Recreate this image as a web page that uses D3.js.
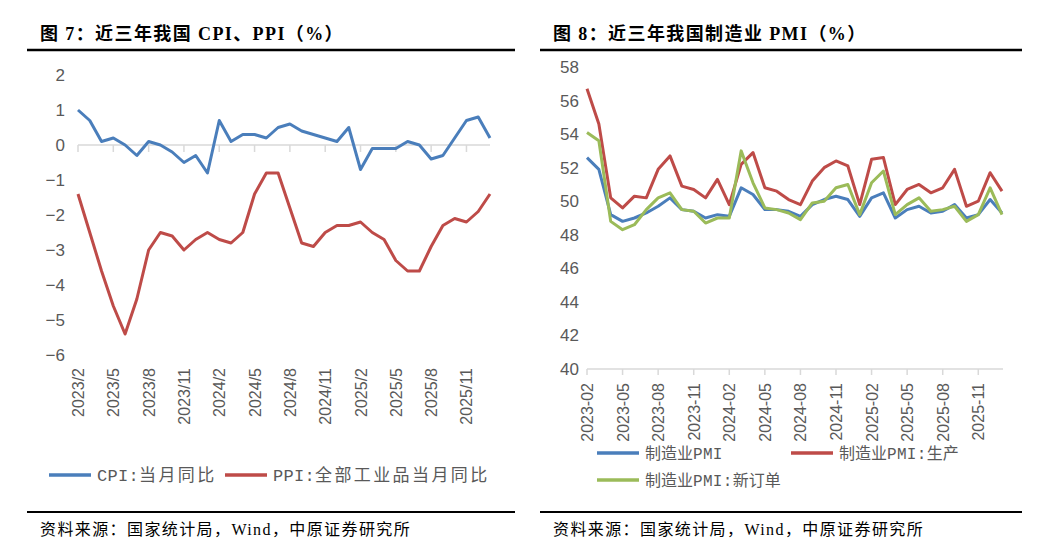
<!DOCTYPE html>
<html><head><meta charset="utf-8">
<script src="https://cdn.jsdelivr.net/npm/d3@7"></script>
<style>
body{margin:0;background:#fff;}
svg text{font-family:"Liberation Sans",Arial,sans-serif;}
</style></head>
<body><svg id="c" width="1044" height="556"></svg>
<script>
// ---------- data ----------
const monthsCN = ["2023/2","2023/3","2023/4","2023/5","2023/6","2023/7","2023/8","2023/9","2023/10","2023/11","2023/12",
"2024/1","2024/2","2024/3","2024/4","2024/5","2024/6","2024/7","2024/8","2024/9","2024/10","2024/11","2024/12",
"2025/1","2025/2","2025/3","2025/4","2025/5","2025/6","2025/7","2025/8","2025/9","2025/10","2025/11","2025/12","2026/1"];
const cpi = [1.0,0.7,0.1,0.2,0.0,-0.3,0.1,0.0,-0.2,-0.5,-0.3,
-0.8,0.7,0.1,0.3,0.3,0.2,0.5,0.6,0.4,0.3,0.2,0.1,
0.5,-0.7,-0.1,-0.1,-0.1,0.1,0.0,-0.4,-0.3,0.2,0.7,0.8,0.2];
const ppi = [-1.4,-2.5,-3.6,-4.6,-5.4,-4.4,-3.0,-2.5,-2.6,-3.0,-2.7,
-2.5,-2.7,-2.8,-2.5,-1.4,-0.8,-0.8,-1.8,-2.8,-2.9,-2.5,-2.3,
-2.3,-2.2,-2.5,-2.7,-3.3,-3.6,-3.6,-2.9,-2.3,-2.1,-2.2,-1.9,-1.4];
const leftTicks = [2,1,0,-1,-2,-3,-4,-5,-6];

const monthsPMI = ["2023-02","2023-03","2023-04","2023-05","2023-06","2023-07","2023-08","2023-09","2023-10","2023-11","2023-12",
"2024-01","2024-02","2024-03","2024-04","2024-05","2024-06","2024-07","2024-08","2024-09","2024-10","2024-11","2024-12",
"2025-01","2025-02","2025-03","2025-04","2025-05","2025-06","2025-07","2025-08","2025-09","2025-10","2025-11","2025-12","2026-01"];
const pmi = [52.6,51.9,49.2,48.8,49.0,49.3,49.7,50.2,49.5,49.4,49.0,
49.2,49.1,50.8,50.4,49.5,49.5,49.4,49.1,49.8,50.1,50.3,50.1,
49.1,50.2,50.5,49.0,49.5,49.7,49.3,49.4,49.8,49.0,49.2,50.1,49.3];
const pmiProd = [56.7,54.6,50.2,49.6,50.3,50.2,51.9,52.7,50.9,50.7,50.2,
51.3,49.8,52.2,52.9,50.8,50.6,50.1,49.8,51.2,52.0,52.4,52.1,
49.8,52.5,52.6,49.8,50.7,51.0,50.5,50.8,51.9,49.7,50.0,51.7,50.6];
const pmiNew = [54.1,53.6,48.8,48.3,48.6,49.5,50.2,50.5,49.5,49.4,48.7,
49.0,49.0,53.0,51.1,49.6,49.5,49.3,48.9,49.9,50.0,50.8,51.0,
49.2,51.1,51.8,49.2,49.8,50.2,49.4,49.5,49.7,48.8,49.2,50.8,49.2];
const rightTicks = [58,56,54,52,50,48,46,44,42,40];

const titleL = "图 7：近三年我国 CPI、PPI（%）";
const titleR = "图 8：近三年我国制造业 PMI（%）";
const source = "资料来源：国家统计局，Wind，中原证券研究所";
const legendL = ["CPI:当月同比","PPI:全部工业品当月同比"];
const legendR = ["制造业PMI","制造业PMI:生产","制造业PMI:新订单"];

const BLUE="#4a7ebb", RED="#be4b48", GREEN="#9bbb59", AX="#d9d9d9", LBL="#595959";
const svg = d3.select("#c");

// ---------- frame ----------
function frame(x0,x1,title,tx){
  svg.append("line").attr("x1",x0).attr("x2",x1).attr("y1",50).attr("y2",50).attr("stroke","#000").attr("stroke-width",2.5);
  svg.append("line").attr("x1",x0).attr("x2",x1).attr("y1",512).attr("y2",512).attr("stroke","#000").attr("stroke-width",2);
  svg.append("text").attr("x",tx).attr("y",40).text(title)
    .style("font-family",'"Liberation Serif","Noto Sans CJK SC",serif').style("font-weight","bold")
    .style("font-size","18px").style("letter-spacing","1.4px").attr("fill","#000");
  svg.append("text").attr("x",tx).attr("y",535).text(source)
    .style("font-family",'"Liberation Serif","Noto Sans CJK SC",serif').style("font-size","16px")
    .style("letter-spacing","1.4px").attr("fill","#000");
}
frame(27,515,titleL,40);
frame(540,1022,titleR,553);

const lineStyle = (sel,c)=>sel.attr("fill","none").attr("stroke",c).attr("stroke-width",3).attr("stroke-linejoin","round");

// legend: split label into latin / CJK runs
function legendItem(g,x,y,c,t,cjkSize,spacing,latSize){
  g.append("line").attr("x1",x).attr("x2",x+42).attr("y1",y).attr("y2",y).attr("stroke",c).attr("stroke-width",3.5);
  const tx = g.append("text").attr("x",x+48).attr("y",y+6).attr("fill",LBL);
  const runs = t.match(/[A-Za-z:]+|[^A-Za-z:]+/g);
  runs.forEach(r=>{
    const lat = /^[A-Za-z:]+$/.test(r);
    tx.append("tspan").text(r)
      .style("font-family", lat?'"Liberation Mono","DejaVu Sans Mono",monospace':'"Noto Sans CJK SC",sans-serif')
      .style("font-size", (lat?latSize:cjkSize)+"px")
      .style("letter-spacing", (lat?0.3:spacing)+"px");
  });
}

// ---------- left chart ----------
const xL = d3.scalePoint().domain(monthsCN).range([78,490]);
const yL = d3.scaleLinear().domain([-6,2]).range([355,75]);
const gL = svg.append("g");
gL.selectAll("text.yl").data(leftTicks).join("text")
  .attr("x",65).attr("y",d=>yL(d)+6).attr("text-anchor","end")
  .attr("fill",LBL).style("font-size","17px").text(d=>d<0?"−"+Math.abs(d):d);
const tickIdxL = d3.range(0,36,3);
gL.append("line").attr("x1",78).attr("x2",490).attr("y1",yL(0)).attr("y2",yL(0)).attr("stroke",AX).attr("stroke-width",1.5);
gL.selectAll("line.tk").data(tickIdxL).join("line")
  .attr("x1",i=>xL(monthsCN[i])).attr("x2",i=>xL(monthsCN[i]))
  .attr("y1",yL(0)).attr("y2",yL(0)+7).attr("stroke",AX).attr("stroke-width",1.5);
gL.selectAll("text.xl").data(tickIdxL).join("text")
  .attr("transform",i=>`translate(${xL(monthsCN[i])+6},368) rotate(-90)`)
  .attr("text-anchor","end").attr("fill",LBL).style("font-size","16px").text(i=>monthsCN[i]);
const lnL = d3.line().x((d,i)=>xL(monthsCN[i])).y(d=>yL(d));
lineStyle(gL.append("path").attr("d",lnL(cpi)),BLUE);
lineStyle(gL.append("path").attr("d",lnL(ppi)),RED);
legendItem(gL,49,475,BLUE,legendL[0],17,2.4,17);
legendItem(gL,225,475,RED,legendL[1],17,2.4,17);

// ---------- right chart ----------
const xR = d3.scalePoint().domain(monthsPMI).range([587,1002]);
const yR = d3.scaleLinear().domain([40,58]).range([369,67]);
const gR = svg.append("g");
gR.selectAll("text.yl").data(rightTicks).join("text")
  .attr("x",579).attr("y",d=>yR(d)+6).attr("text-anchor","end")
  .attr("fill",LBL).style("font-size","17px").text(d=>d);
gR.append("line").attr("x1",587).attr("x2",1003).attr("y1",yR(40)).attr("y2",yR(40)).attr("stroke",AX).attr("stroke-width",1.5);
const tickIdxR = d3.range(0,36,3);
gR.selectAll("line.tk").data(tickIdxR).join("line")
  .attr("x1",i=>xR(monthsPMI[i])).attr("x2",i=>xR(monthsPMI[i]))
  .attr("y1",yR(40)).attr("y2",yR(40)+6).attr("stroke",AX).attr("stroke-width",1.5);
gR.selectAll("text.xl").data(tickIdxR).join("text")
  .attr("transform",i=>`translate(${xR(monthsPMI[i])+6},383) rotate(-90)`)
  .attr("text-anchor","end").attr("fill",LBL).style("font-size","16px").text(i=>monthsPMI[i]);
const lnR = d3.line().x((d,i)=>xR(monthsPMI[i])).y(d=>yR(d));
lineStyle(gR.append("path").attr("d",lnR(pmi)),BLUE);
lineStyle(gR.append("path").attr("d",lnR(pmiProd)),RED);
lineStyle(gR.append("path").attr("d",lnR(pmiNew)),GREEN);
legendItem(gR,597,453,BLUE,legendR[0],16,0,16);
legendItem(gR,791,453,RED,legendR[1],16,0,16);
legendItem(gR,597,480,GREEN,legendR[2],16,0,16);
</script></body></html>
